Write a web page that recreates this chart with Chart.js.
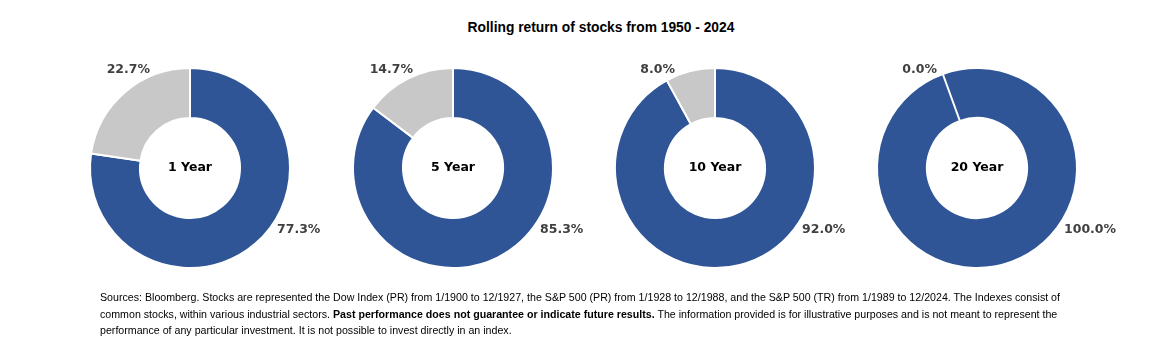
<!DOCTYPE html>
<html>
<head>
<meta charset="utf-8">
<script src="https://cdn.jsdelivr.net/npm/chart.js@4/dist/chart.umd.min.js"></script>
<style>
  html, body { margin: 0; padding: 0; background: #fff; }
  #page { position: relative; width: 1150px; height: 363px; overflow: hidden; }
  #title {
    position: absolute; left: 0; top: 20px; width: 1202px; text-align: center;
    font: bold 13.8px "Liberation Sans", Arial, sans-serif; color: #000;
  }
  .pie { position: absolute; top: 38px; }
  #notes {
    position: absolute; left: 100px; top: 289px; width: 1040px;
    font: 10.65px "Liberation Sans", Arial, sans-serif; color: #000; line-height: 16.5px;
  }
</style>
</head>
<body>
<div id="page">
  <div id="title">Rolling return of stocks from 1950 - 2024</div>
  <canvas id="c0" class="pie" width="320" height="260"></canvas>
  <canvas id="c1" class="pie" width="320" height="260"></canvas>
  <canvas id="c2" class="pie" width="320" height="260"></canvas>
  <canvas id="c3" class="pie" width="320" height="260"></canvas>
  <div id="notes">Sources: Bloomberg. Stocks are represented the Dow Index (PR) from 1/1900 to 12/1927, the S&amp;P 500 (PR) from 1/1928 to 12/1988, and the S&amp;P 500 (TR) from 1/1989 to 12/2024. The Indexes consist of<br>common stocks, within various industrial sectors. <b>Past performance does not guarantee or indicate future results.</b> The information provided is for illustrative purposes and is not meant to represent the<br>performance of any particular investment. It is not possible to invest directly in an index.</div>
</div>
<script>
// rolling periods and share of positive / negative periods (%)
const periods = ['1 Year', '5 Year', '10 Year', '20 Year'];
const positivePct = [77.3, 85.3, 92.0, 100.0];
const negativePct = [22.7, 14.7, 8.0, 0.0];

const BLUE = '#2F5597';
const GREY = '#C8C8C8';
const centers = [190, 452.5, 715, 977];
const rotations = [0, 0, 0, -20];

// draws the period name in the hole and the two percentage labels
const labelPlugin = {
	id: 'pieLabels',
	afterDatasetsDraw(chart) {
		const ctx = chart.ctx;
		const arcs = chart.getDatasetMeta(0).data;
		const vals = chart.data.datasets[0].data;
		const { x, y, outerRadius: r } = arcs[0];
		ctx.save();
		ctx.textBaseline = 'middle';
		ctx.font = 'bold 12.5px "DejaVu Sans", sans-serif';
		ctx.fillStyle = '#000';
		ctx.textAlign = 'center';
		ctx.fillText(chart.options.plugins.pieLabels.name, x, y);

		ctx.fillStyle = '#404040';
		ctx.textAlign = 'left';
		ctx.fillText(vals[0].toFixed(1) + '%', x + r * 0.87, y + r * 0.62);
		ctx.textAlign = 'right';
		ctx.fillText(vals[1].toFixed(1) + '%', x - r * 0.40, y - r * 0.98);
		ctx.restore();
	}
};

periods.forEach((name, i) => {
	const canvas = document.getElementById('c' + i);
	canvas.style.left = (centers[i] - 160) + 'px';
	new Chart(canvas, {
		type: 'doughnut',
		data: {
			labels: ['Positive', 'Negative'],
			datasets: [{
				data: [positivePct[i], negativePct[i]],
				backgroundColor: [BLUE, GREY],
				borderColor: '#fff',
				borderWidth: 2
			}]
		},
		options: {
			responsive: false,
			animation: false,
			devicePixelRatio: 1,
			cutout: '50%',
			rotation: rotations[i],
			layout: { padding: { left: 59, right: 59, top: 29, bottom: 29 } },
			plugins: {
				legend: { display: false },
				tooltip: { enabled: false },
				pieLabels: { name }
			}
		},
		plugins: [labelPlugin]
	});
});
</script>
</body>
</html>
